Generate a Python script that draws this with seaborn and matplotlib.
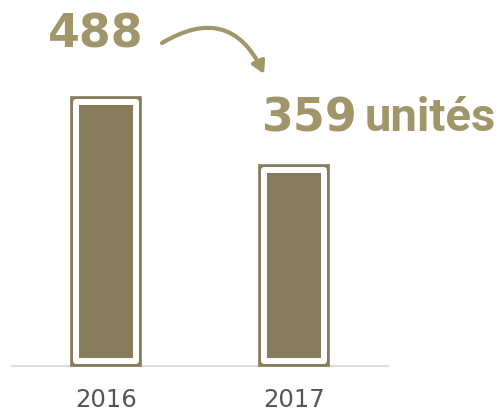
import matplotlib
matplotlib.use("Agg")
import matplotlib.pyplot as plt
import matplotlib.patheffects as pe
import seaborn as sns
import pandas as pd

# === Data ===
years = ["2016", "2017"]
units = [488, 359]
label_start = "488"
label_end_value = "359"
label_end_unit = "unités"

OLIVE = "#877c5b"
TEXT_OLIVE = "#a0966a"

sns.set_style("white")
plt.rcParams['font.family'] = ['DejaVu Sans']

df = pd.DataFrame({"year": years, "units": units})

fig = plt.figure(figsize=(5, 4.11), dpi=100)
ax = fig.add_axes([12 / 500, 45 / 411, 376 / 500, 366 / 411])

sns.barplot(data=df, x="year", y="units", color=OLIVE, saturation=1,
            width=0.314, edgecolor="white", linewidth=4.3, ax=ax)

# outer frame + white gap around each bar
for bar in ax.patches:
    bar.set_joinstyle("round")
    bar.set_clip_on(False)
    bar.set_path_effects([
        pe.Stroke(linewidth=8.4, foreground=OLIVE, joinstyle="miter"),
        pe.Normal(),
    ])

ax.set_xlim(-0.5, 1.5)
ax.set_ylim(-9.4, 680)
ax.set_xlabel("")
ax.set_ylabel("")
ax.set_yticks([])
ax.tick_params(axis="x", length=0, pad=16, labelsize=17.5, labelcolor="#555555")
for side in ["top", "left", "right"]:
    ax.spines[side].set_visible(False)
ax.spines["bottom"].set_color("#dddddd")
ax.spines["bottom"].set_linewidth(1.5)
ax.spines["bottom"].set_zorder(0)

# big numbers
fig.text(48 / 500, 1 - 47 / 411, label_start, fontsize=33, fontweight="bold",
         color=TEXT_OLIVE, va="baseline", ha="left")
fig.text(262 / 500, 1 - 131 / 411, label_end_value, fontsize=33, fontweight="bold",
         color=TEXT_OLIVE, va="baseline", ha="left")
fig.text(365 / 500, 1 - 131 / 411, label_end_unit, fontsize=34, fontweight="bold",
         family=["Roboto", "DejaVu Sans"],
         color=TEXT_OLIVE, va="baseline", ha="left")

# curved arrow
ax.annotate("", xy=(264 / 500, 1 - 74 / 411), xycoords="figure fraction",
            xytext=(162 / 500, 1 - 43 / 411), textcoords="figure fraction",
            arrowprops=dict(arrowstyle="-|>,head_length=0.7,head_width=0.4",
                            color=TEXT_OLIVE, lw=3,
                            connectionstyle="arc3,rad=-0.55",
                            shrinkA=0, shrinkB=0))

fig.savefig("out.png", dpi=100)
